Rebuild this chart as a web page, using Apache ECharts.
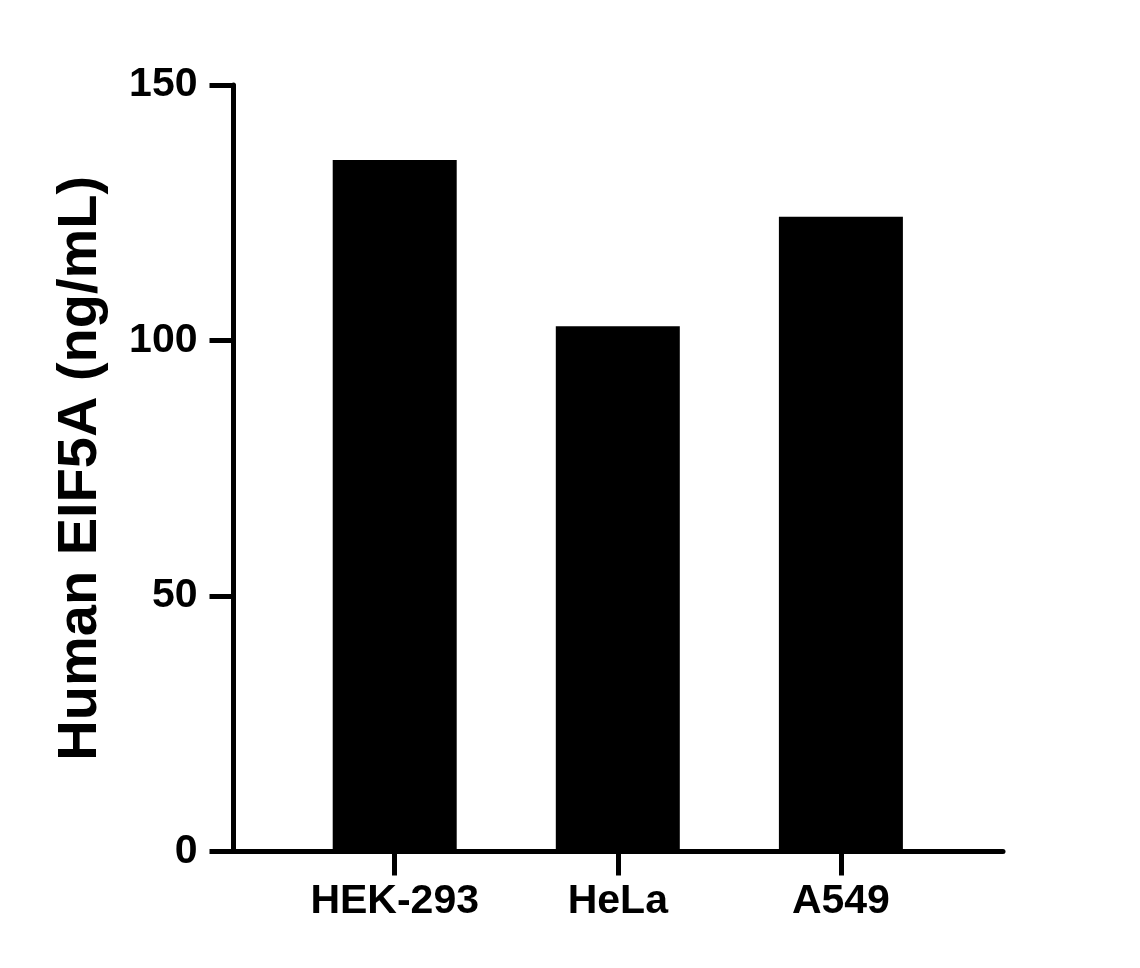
<!DOCTYPE html>
<html>
<head>
<meta charset="utf-8">
<script src="https://cdn.jsdelivr.net/npm/echarts@6/dist/echarts.min.js"></script>
<style>
html,body{margin:0;padding:0;background:#fff;}
#chart{width:1140px;height:968px;}
</style>
</head>
<body>
<div id="chart"></div>
<script>
const categories = ['HEK-293', 'HeLa', 'A549'];
const values = [135.3, 102.8, 124.2];
const yAxisTitle = 'Human EIF5A (ng/mL)';
const yMin = 0, yMax = 150, yStep = 50;

const FONT = '"Liberation Sans", Arial, Helvetica, sans-serif';
const chart = echarts.init(document.getElementById('chart'), null, {renderer: 'canvas'});
const positions = categories.map((c, i) => i);

chart.setOption({
  animation: false,
  backgroundColor: '#ffffff',
  grid: {left: 233.5, right: 137, top: 85, bottom: 116.5, containLabel: false},
  xAxis: {
    type: 'value',
    min: -0.7226,
    max: 2.7266,
    splitLine: {show: false},
    axisLine: {show: true, onZero: false, lineStyle: {color: '#000', width: 5}},
    axisTick: {show: true, customValues: positions, length: 24, lineStyle: {color: '#000', width: 5}},
    axisLabel: {
      show: true,
      customValues: positions,
      margin: 30,
      color: '#000',
      fontSize: 41,
      fontWeight: 'bold',
      fontFamily: FONT,
      formatter: v => categories[Math.round(v)] || ''
    }
  },
  yAxis: {
    type: 'value',
    min: yMin,
    max: yMax,
    interval: yStep,
    splitLine: {show: false},
    axisLine: {show: true, onZero: false, lineStyle: {color: '#000', width: 5}},
    axisTick: {show: true, length: 24, lineStyle: {color: '#000', width: 5}},
    axisLabel: {margin: 36, color: '#000', fontSize: 41, fontWeight: 'bold', fontFamily: FONT},
    name: yAxisTitle,
    nameLocation: 'middle',
    nameRotate: 90,
    nameGap: 125,
    nameTextStyle: {color: '#000', fontSize: 56, fontWeight: 'bold', fontFamily: FONT}
  },
  series: [{
    type: 'bar',
    barWidth: 124,
    itemStyle: {color: '#000'},
    data: values.map((v, i) => [positions[i], v])
  }]
});
</script>
</body>
</html>
